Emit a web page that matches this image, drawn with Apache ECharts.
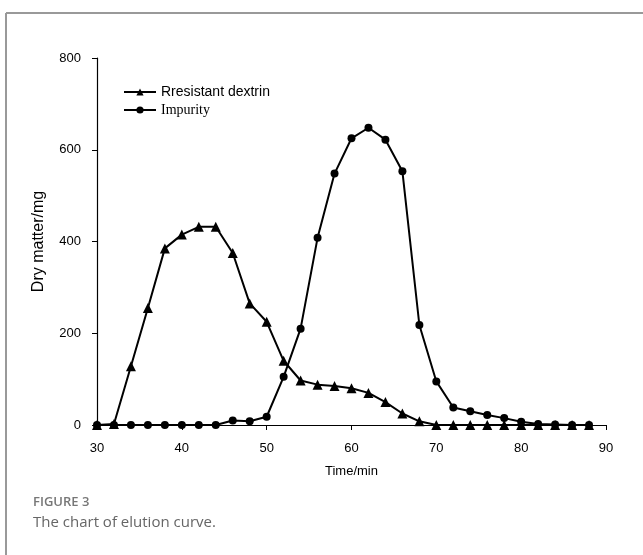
<!DOCTYPE html>
<html>
<head>
<meta charset="utf-8">
<script src="https://cdn.jsdelivr.net/npm/echarts@6/dist/echarts.min.js"></script>
<style>
html,body{margin:0;padding:0;background:#fff;}
#chart{width:643px;height:555px;}
</style>
</head>
<body>
<div id="chart"></div>
<script>
const times = [30,32,34,36,38,40,42,44,46,48,50,52,54,56,58,60,62,64,66,68,70,72,74,76,78,80,82,84,86,88];
const dextrin = [0,2,128,255,385,415,432,432,375,265,225,140,97,88,85,80,70,50,25,8,0,0,0,0,0,0,0,0,0,0];
const impurity = [0,0,0,0,0,0,0,0,10,8,18,105,210,408,548,625,648,622,553,218,95,38,30,22,15,7,2,1,0,0];
const xTicks = [30,40,50,60,70,80,90];
const yTicks = [0,200,400,600,800];

const chart = echarts.init(document.getElementById('chart'));
const axisFont = '"Liberation Sans Narrow", "Liberation Sans", Arial, sans-serif';
chart.setOption({
  animation: false,
  backgroundColor: '#fff',
  graphic: [
    {type:'line', shape:{x1:6,y1:13,x2:643,y2:13}, style:{stroke:'#999',lineWidth:2}},
    {type:'line', shape:{x1:6,y1:13,x2:6,y2:555}, style:{stroke:'#999',lineWidth:2}},
    {type:'text', left:33, top:496, style:{text:'FIGURE 3', fill:'#777', font:'600 13px "Open Sans", sans-serif'}},
    {type:'text', left:33, top:515, style:{text:'The chart of elution curve.', fill:'#666', font:'15px "Open Sans", sans-serif'}}
  ],
  grid: {left:97, right:37, top:58, bottom:130},
  legend: {
    left: 118, top: 80, orient:'vertical', itemGap: 4, itemWidth: 32, itemHeight: 9,
    textStyle:{color:'#000', fontSize:14, fontFamily: axisFont},
    data: [
      {name:'Rresistant dextrin', textStyle:{fontFamily:'"Liberation Sans", Arial, sans-serif', fontSize:14}},
      {name:'Impurity', textStyle:{fontFamily:'"Liberation Serif", "Times New Roman", serif', fontSize:14}}
    ]
  },
  xAxis: {
    type:'value', min:30, max:90, interval:10,
    name:'Time/min', nameLocation:'middle', nameGap:40,
    nameTextStyle:{color:'#000', fontSize:13, fontFamily:axisFont},
    axisLine:{lineStyle:{color:'#000', width:1.2}},
    axisTick:{show:true, length:5, lineStyle:{color:'#000'}},
    axisLabel:{color:'#000', fontSize:13, fontFamily:axisFont, margin:17,
      formatter: v => xTicks.includes(v) ? String(v) : ''},
    splitLine:{show:false}
  },
  yAxis: {
    type:'value', min:0, max:800, interval:200,
    name:'Dry matter/mg', nameLocation:'middle', nameGap:50,
    nameTextStyle:{color:'#000', fontSize:16, fontFamily:'"Liberation Sans", Arial, sans-serif'},
    axisLine:{show:true, lineStyle:{color:'#000', width:1.2}},
    axisTick:{show:true, length:5, lineStyle:{color:'#000'}},
    axisLabel:{color:'#000', fontSize:13, fontFamily:axisFont, margin:16,
      formatter: v => yTicks.includes(v) ? String(v) : ''},
    splitLine:{show:false}
  },
  series: [
    {
      name:'Rresistant dextrin', type:'line',
      data: times.map((t,i)=>[t,dextrin[i]]),
      symbol:'triangle', symbolSize:10,
      lineStyle:{color:'#000', width:2},
      itemStyle:{color:'#000'}, z:3
    },
    {
      name:'Impurity', type:'line',
      data: times.map((t,i)=>[t,impurity[i]]),
      symbol:'circle', symbolSize:8,
      lineStyle:{color:'#000', width:2},
      itemStyle:{color:'#000'}, z:2
    }
  ]
});
</script>
</body>
</html>
